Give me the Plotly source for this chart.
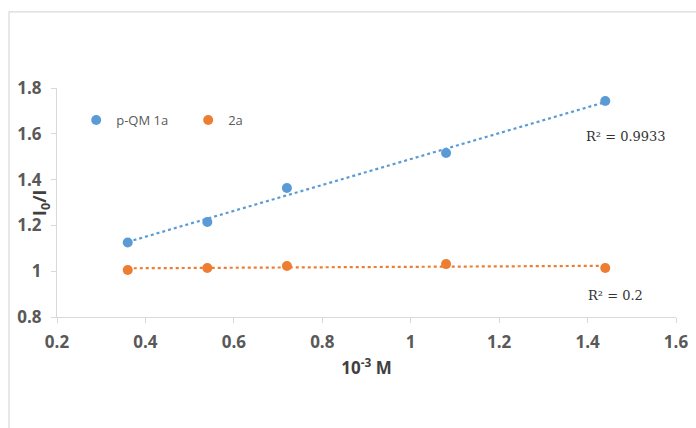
import numpy as np
import plotly.graph_objects as go

# Concentration (10^-3 M)
conc = [0.36, 0.54, 0.72, 1.08, 1.44]
# I0/I ratios
qm1a = [1.125, 1.215, 1.363, 1.516, 1.743]
comp2a = [1.005, 1.014, 1.023, 1.031, 1.014]

series_names = ["p-QM 1a", "2a"]
colors = ["#5b9bd5", "#ed7d31"]
r2_labels = ["R² = 0.9933", "R² = 0.2"]

x_ticks = [0.2, 0.4, 0.6, 0.8, 1.0, 1.2, 1.4, 1.6]
x_tick_text = ["0.2", "0.4", "0.6", "0.8", "1", "1.2", "1.4", "1.6"]
y_ticks = [0.8, 1.0, 1.2, 1.4, 1.6, 1.8]
y_tick_text = ["0.8", "1", "1.2", "1.4", "1.6", "1.8"]

fig = go.Figure()

for name, ys, col in zip(series_names, [qm1a, comp2a], colors):
    # linear trendline through the measured points
    k, b = np.polyfit(conc, ys, 1)
    xs = np.array([min(conc), max(conc)])
    fig.add_trace(go.Scatter(x=xs, y=k * xs + b, mode="lines",
                             line=dict(color=col, width=2.2, dash="dot"),
                             showlegend=False, hoverinfo="skip"))
    fig.add_trace(go.Scatter(x=conc, y=ys, mode="markers", name=name,
                             marker=dict(color=col, size=10)))

# R² labels beside each trendline
r2_font = dict(family="DejaVu Serif", size=13, color="#333333")
fig.add_annotation(x=1.392, y=1.59, text=r2_labels[0], showarrow=False,
                   xanchor="left", font=r2_font)
fig.add_annotation(x=1.397, y=0.892, text=r2_labels[1], showarrow=False,
                   xanchor="left", font=r2_font)

# y-axis title, tucked in between the tick labels
fig.add_annotation(xref="paper", yref="paper", x=-0.0517, y=0.50,
                   text="<b>I<sub>0</sub>/I</b>", textangle=-90, showarrow=False,
                   font=dict(family="Open Sans", size=18, color="#404040"))

# outer chart frame
fig.add_shape(type="rect", xref="paper", yref="paper",
              x0=-0.0775, x1=1.2, y0=-1.0, y1=1.332,
              line=dict(color="#d9d9d9", width=1.2), layer="below")

tick_font = dict(family="Open Sans", size=17, color="#595959", weight="bold")

fig.update_layout(
    width=696, height=428,
    margin=dict(l=57, r=20, t=88, b=111),
    paper_bgcolor="white", plot_bgcolor="white",
    showlegend=True,
    legend=dict(orientation="h", x=0.031, y=0.86, xanchor="left", yanchor="middle",
                font=dict(family="Open Sans", size=13, color="#595959"),
                bgcolor="rgba(0,0,0,0)", itemwidth=30,
                entrywidth=67, entrywidthmode="pixels"),
    xaxis=dict(range=[0.2, 1.6], tickvals=x_ticks, ticktext=x_tick_text,
               automargin=False,
               showgrid=False, zeroline=False, showline=True, linecolor="#d9d9d9",
               linewidth=1.2, ticks="outside", ticklen=5, tickcolor="#d9d9d9",
               ticklabelstandoff=4, tickfont=tick_font,
               title=dict(text="<b>10<sup>-3</sup> M</b>", standoff=10,
                          font=dict(family="Open Sans", size=17, color="#404040"))),
    yaxis=dict(range=[0.8, 1.8], tickvals=y_ticks, ticktext=y_tick_text,
               automargin=False,
               showgrid=False, zeroline=False, showline=True, linecolor="#d9d9d9",
               linewidth=1.2, ticks="outside", ticklen=5, tickcolor="#d9d9d9",
               ticklabelstandoff=6, tickfont=tick_font),
)

fig.write_html("out.html")
